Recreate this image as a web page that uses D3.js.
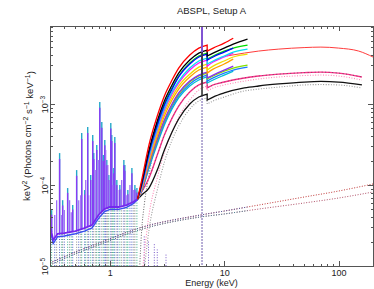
<!DOCTYPE html>
<html>
<head>
<meta charset="utf-8">
<script src="https://cdn.jsdelivr.net/npm/d3@7"></script>
<style>
  body { margin: 0; background: #fff; }
  text { font-family: "Liberation Sans", Arial, Helvetica, sans-serif; fill: #222; }
</style>
</head>
<body>
<svg id="chart" width="374" height="289"></svg>
<script>
// ---- labels / ticks
const titleText = "ABSPL, Setup A";
const xMajor = [1, 10, 100];
const xTickLabels = ["1", "10", "100"];
const yMajor = [1e-5, 1e-4, 1e-3];
const yTickExp = ["\u22125", "\u22124", "\u22123"];

// ---- energy grids (keV); 7.1 appears twice = Fe K edge (before / after)
const preE = [1.75, 1.9, 2.2, 2.6, 3, 3.5, 4, 5, 6, 7.1];
const postE = [7.1, 8, 10, 12, 16];
const postLongE = [7.1, 8, 10, 15, 20, 30, 50, 70, 100, 160];

// ---- short spectra (keV^2 photons cm^-2 s^-1 keV^-1), end at 12 or 16 keV
const redPre = [6.7e-5, 1.15e-4, 3.12e-4, 7.11e-4, 1.26e-3, 1.98e-3, 2.78e-3, 4.03e-3, 4.91e-3, 5.35e-3];
const redPost = [4.51e-3, 4.91e-3, 5.66e-3, 6.5e-3];
const blackPre = [6.7e-5, 1.06e-4, 2.70e-4, 6.17e-4, 1.09e-3, 1.72e-3, 2.41e-3, 3.49e-3, 4.26e-3, 4.64e-3];
const blackPost = [3.92e-3, 4.26e-3, 4.91e-3, 5.50e-3, 6.34e-3];
const greenPre = [6.7e-5, 1.03e-4, 2.55e-4, 5.66e-4, 1.0e-3, 1.58e-3, 2.22e-3, 3.21e-3, 3.92e-3, 4.26e-3];
const greenPost = [3.59e-3, 3.92e-3, 4.51e-3, 4.91e-3, 5.35e-3];
const bluePre = [6.7e-5, 1.0e-4, 2.48e-4, 5.51e-4, 9.72e-4, 1.53e-3, 2.16e-3, 3.12e-3, 3.81e-3, 4.14e-3];
const bluePost = [3.49e-3, 3.81e-3, 4.38e-3, 4.91e-3];
const cyanPre = [6.7e-5, 9.71e-5, 2.28e-4, 5.06e-4, 8.93e-4, 1.41e-3, 1.92e-3, 2.78e-3, 3.40e-3, 3.70e-3];
const cyanPost = [3.12e-3, 3.40e-3, 3.92e-3, 4.38e-3, 4.77e-3];
const magentaPre = [6.7e-5, 9.44e-5, 2.16e-4, 4.78e-4, 8.43e-4, 1.33e-3, 1.82e-3, 2.63e-3, 3.21e-3, 3.49e-3];
const magentaPost = [2.94e-3, 3.30e-3, 3.81e-3, 4.26e-3];
const yellowPre = [6.7e-5, 9.18e-5, 2.04e-4, 4.38e-4, 7.74e-4, 1.22e-3, 1.67e-3, 2.34e-3, 2.86e-3, 3.12e-3];
const yellowPost = [2.63e-3, 2.94e-3, 3.40e-3, 3.81e-3, 4.14e-3];
const orangePre = [6.7e-5, 8.92e-5, 1.92e-4, 4.03e-4, 7.11e-4, 1.12e-3, 1.53e-3, 2.16e-3, 2.63e-3, 2.86e-3];
const orangePost = [2.41e-3, 2.70e-3, 3.12e-3, 3.59e-3];
const purplePre = [6.7e-5, 8.67e-5, 1.82e-4, 3.70e-4, 6.34e-4, 1.0e-3, 1.37e-3, 1.92e-3, 2.28e-3, 2.48e-3];
const purplePost = [2.10e-3, 2.28e-3, 2.63e-3, 2.94e-3];
const limePre = [6.7e-5, 8.67e-5, 1.77e-4, 3.59e-4, 6.17e-4, 9.72e-4, 1.33e-3, 1.87e-3, 2.22e-3, 2.41e-3];
const limePost = [2.04e-3, 2.22e-3, 2.55e-3, 2.78e-3, 3.03e-3];
const azurePre = [6.7e-5, 8.43e-5, 1.67e-4, 3.40e-4, 5.83e-4, 9.18e-4, 1.26e-3, 1.77e-3, 2.10e-3, 2.28e-3];
const azurePost = [1.92e-3, 2.10e-3, 2.41e-3, 2.63e-3, 2.86e-3];
const tealPre = [6.7e-5, 8.43e-5, 1.62e-4, 3.21e-4, 5.51e-4, 8.67e-4, 1.19e-3, 1.67e-3, 1.98e-3, 2.16e-3];
const tealPost = [1.82e-3, 1.98e-3, 2.28e-3, 2.55e-3];

// ---- broad-band spectra (to 160 keV)
const pinkPre = [6.7e-5, 8.20e-5, 1.22e-4, 2.35e-4, 4.14e-4, 6.71e-4, 9.44e-4, 1.41e-3, 1.72e-3, 1.87e-3];
const pinkPost = [1.58e-3, 1.72e-3, 1.87e-3, 2.10e-3, 2.22e-3, 2.34e-3, 2.44e-3, 2.48e-3, 2.41e-3, 2.16e-3];
const lowPre = [6.7e-5, 7.53e-5, 9.18e-5, 1.53e-4, 2.70e-4, 4.51e-4, 6.53e-4, 1.0e-3, 1.22e-3, 1.33e-3];
const lowPost = [1.12e-3, 1.22e-3, 1.37e-3, 1.58e-3, 1.67e-3, 1.77e-3, 1.87e-3, 1.90e-3, 1.87e-3, 1.72e-3];

// ---- hard X-ray spectrum (thin red)
const hardE = [10.5, 15, 20, 30, 50, 70, 100, 150, 200];
const hardF = [3.92e-3, 4.26e-3, 4.51e-3, 4.77e-3, 4.98e-3, 5.05e-3, 4.91e-3, 4.51e-3, 3.81e-3];

// ---- model components (dotted)
const pinkDotE = [1.95, 2.2, 2.6, 3, 3.5, 4, 5, 6, 7.1];
const pinkDotPre = [1.0e-5, 4.26e-5, 1.22e-4, 2.55e-4, 4.51e-4, 6.91e-4, 1.12e-3, 1.49e-3, 1.67e-3];
const pinkDotPost = [1.45e-3, 1.58e-3, 1.72e-3, 1.92e-3, 2.04e-3, 2.16e-3, 2.25e-3, 2.28e-3, 2.22e-3, 1.98e-3];
const lowDotE = [2.0, 2.2, 2.6, 3, 3.5, 4, 5, 6, 7.1];
const lowDotPre = [9e-6, 2.78e-5, 8.67e-5, 1.92e-4, 3.59e-4, 5.35e-4, 8.67e-4, 1.09e-3, 1.19e-3];
const lowDotPost = [1.0e-3, 1.09e-3, 1.22e-3, 1.45e-3, 1.53e-3, 1.62e-3, 1.72e-3, 1.74e-3, 1.72e-3, 1.58e-3];
const softDotE = [1.82, 1.9, 2.0, 2.2, 2.6, 3];
const softDotF = [9e-6, 2.78e-5, 5.66e-5, 1.33e-4, 4.14e-4, 8.43e-4];

// scattered power laws
const scatE = [0.3, 0.5, 0.8, 1.8, 6.2, 10, 20, 50, 100, 200];
const scatHiF = [1.09e-5, 1.49e-5, 1.92e-5, 2.94e-5, 4.26e-5, 4.77e-5, 5.66e-5, 7.11e-5, 8.43e-5, 1.03e-4];
const scatLoF = [1.03e-5, 1.41e-5, 1.82e-5, 2.78e-5, 4.03e-5, 4.39e-5, 5.05e-5, 6.0e-5, 6.91e-5, 8.2e-5];

// ---- soft emission-line forest
const contE = [0.3, 0.32, 0.35, 0.4, 0.5, 0.6, 0.7, 0.8, 0.9, 1.0, 1.2, 1.4, 1.6, 1.75];
const contF = [3.2e-5, 2.1e-5, 2.5e-5, 2.55e-5, 2.7e-5, 2.94e-5, 3.2e-5, 4.3e-5, 5.05e-5, 5.35e-5, 5.35e-5, 5.66e-5, 6.17e-5, 6.7e-5];
const contLoF = [2.9e-5, 1.9e-5, 2.3e-5, 2.35e-5, 2.5e-5, 2.7e-5, 2.95e-5, 3.9e-5, 4.7e-5, 5.0e-5, 5.0e-5, 5.3e-5, 5.9e-5, 6.6e-5];
const lineE = [0.31, 0.364, 0.387, 0.428, 0.474, 0.513, 0.568, 0.603, 0.641, 0.681, 0.709, 0.724, 0.769, 0.817, 0.851, 0.877,
               0.904, 0.941, 0.98, 1.02, 1.04, 1.084, 1.106, 1.152, 1.224, 1.327, 1.354, 1.438, 1.56, 1.657, 1.725];
const lineTop = [4.9e-5, 2.48e-4, 6.5e-5, 9.18e-5, 5.66e-5, 1.53e-4, 4.38e-4, 8.67e-5, 5.21e-4, 1.33e-4, 4.14e-4, 2.48e-4, 3.12e-4, 1.06e-3, 6.0e-4, 2.35e-4,
                 3.59e-4, 2.04e-4, 1.33e-4, 5.83e-4, 4.14e-4, 1.62e-4, 3.92e-4, 1.15e-4, 1.0e-4, 2.04e-4, 1.77e-4, 8.67e-5, 1.62e-4, 1.0e-4, 9.18e-5];
const lineMid = [4.3e-5, 2.1e-4, 5.6e-5, 8.0e-5, 5.0e-5, 1.3e-4, 3.7e-4, 7.6e-5, 4.4e-4, 1.15e-4, 3.5e-4, 2.1e-4, 2.7e-4, 9.0e-4, 5.1e-4, 2.0e-4,
                 3.1e-4, 1.75e-4, 1.15e-4, 5.0e-4, 3.5e-4, 1.4e-4, 3.3e-4, 1.0e-4, 8.8e-5, 1.75e-4, 1.5e-4, 7.7e-5, 1.4e-4, 8.8e-5, 8.1e-5];
// weaker lines
const weakE = [0.33, 0.343, 0.38, 0.40, 0.445, 0.46, 0.535, 0.557, 0.616, 0.654, 0.754, 0.80, 0.92, 0.96, 1.06, 1.175, 1.27, 1.41, 1.5, 1.62];
const weakF = [4.26e-5, 6.5e-5, 4.26e-5, 4.9e-5, 6.5e-5, 4.6e-5, 6.5e-5, 7.5e-5, 1.15e-4, 7.5e-5, 1.53e-4, 2.04e-4, 2.7e-4, 1.77e-4, 1.0e-4, 8.7e-5, 1.15e-4, 7.5e-5, 1.0e-4, 8.7e-5];
const hiLineE = [2.0, 2.18, 2.45, 2.6, 3.1];
const hiLineF = [2.4e-5, 2.0e-5, 1.9e-5, 1.6e-5, 1.4e-5];

// ---- Fe K alpha line
const feE = 6.4;
const fePeak = 2.0e-2;     // goes off the top of the frame
const fePeakLow = 4.4e-3;
const feGaussTop = 1.3e-3;

// ---------------------------------------------------------------
const svg = d3.select("#chart");
const m = { l: 50, r: 373, t: 26, b: 266 };

const x = d3.scaleLog().domain([0.3, 200]).range([m.l, m.r]);
const y = d3.scaleLog().domain([1e-5, 9.2e-3]).range([m.b, m.t]);

const defs = svg.append("defs");
defs.append("clipPath").attr("id", "plotClip").append("rect")
  .attr("x", m.l).attr("y", m.t).attr("width", m.r - m.l).attr("height", m.b - m.t);
defs.append("clipPath").attr("id", "softClip").append("rect")
  .attr("x", m.l).attr("y", m.t).attr("width", x(16) - m.l).attr("height", m.b - m.t);

const plot = svg.append("g").attr("clip-path", "url(#plotClip)");

const line = d3.line().x(d => x(d[0])).y(d => y(d[1])).curve(d3.curveMonotoneX);
const lineLin = d3.line().x(d => x(d[0])).y(d => y(d[1]));
const pts = (es, fs) => fs.map((f, i) => [es[i], f]);
// two smooth pieces joined by the vertical drop of the Fe K edge
const edgePath = (preEs, pre, postEs, post) =>
  line(pts(preEs, pre)) + line(pts(postEs, post)).replace(/^M/, "L");

const dotted = (sel, color, w) => sel.attr("fill", "none").attr("stroke", color)
  .attr("stroke-width", w || 1).attr("stroke-dasharray", "1,1.6");

const vlines = (cls, data, y1, y2, color, w) => plot.selectAll("." + cls).data(data).join("line")
  .attr("class", cls)
  .attr("x1", d => x(d)).attr("x2", d => x(d))
  .attr("y1", y1).attr("y2", y2)
  .attr("stroke", color).attr("stroke-width", w || 1);

// scattered power laws: red over the full band, blue-grey up to 16 keV
dotted(plot.append("path").attr("d", line(pts(scatE, scatHiF))), "#c03838");
dotted(plot.append("path").attr("d", line(pts(scatE, scatLoF))), "#b05068");
const softG = plot.append("g").attr("clip-path", "url(#softClip)");
dotted(softG.append("path").attr("d", line(pts(scatE, scatHiF))), "#5560a8");
dotted(softG.append("path").attr("d", line(pts(scatE, scatLoF))), "#4f8a9c");

// dotted line components reaching down to the bottom
const cont = d3.scaleLog().domain(contE).range(contF);
const dotColors = ["#3bb08a", "#4b5cc4", "#8a8a8a"];
dotted(vlines("dspike", lineE, m.b, d => y(cont(d)), "#000"), "#000")
  .attr("stroke", (d, i) => dotColors[i % 3]);
dotted(vlines("wdspike", weakE, m.b, d => y(cont(d)), "#000"), "#000")
  .attr("stroke", (d, i) => dotColors[(i + 1) % 3]);
dotted(vlines("hspike", hiLineE, m.b, (d, i) => y(hiLineF[i]), "#7a5cc8"), "#7a5cc8");

// absorbed power-law components
dotted(plot.append("path").attr("d", line(pts(softDotE, softDotF))), "#666");
dotted(plot.append("path").attr("d", edgePath(lowDotE, lowDotPre, postLongE, lowDotPost)), "#999", 1.1);
dotted(plot.append("path").attr("d", edgePath(pinkDotE, pinkDotPre, postLongE, pinkDotPost)), "#ff8ab8", 1.1);

// Fe line gaussian component
plot.append("line")
  .attr("x1", x(feE)).attr("x2", x(feE)).attr("y1", m.b + 2).attr("y2", y(feGaussTop))
  .attr("stroke", "#7d6db5").attr("stroke-width", 1.1).attr("stroke-dasharray", "2,1");

// soft line forest: teal tops, violet body, violet continuum
vlines("tspike", lineE, d => y(cont(d)), (d, i) => y(lineTop[i]), "#25a9c9", 1.4);
vlines("vspike", lineE, d => y(cont(d)), (d, i) => y(lineMid[i]), "#8a3cf5", 1.4);
vlines("wspike", weakE, d => y(cont(d)), (d, i) => y(weakF[i]), "#9d6cf6", 1.3);
plot.append("path").attr("d", lineLin(pts(contE, contLoF)))
  .attr("fill", "none").attr("stroke", "#3a4cf0").attr("stroke-width", 1.4);
plot.append("path").attr("d", lineLin(pts(contE, contF)))
  .attr("fill", "none").attr("stroke", "#7526ee").attr("stroke-width", 1.8);

// hard band
plot.append("path").attr("d", line(pts(hardE, hardF)))
  .attr("fill", "none").attr("stroke", "#ff3c3c").attr("stroke-width", 1);

// broad-band spectra
plot.append("path").attr("d", edgePath(preE, lowPre, postLongE, lowPost))
  .attr("fill", "none").attr("stroke", "#111").attr("stroke-width", 1.3);
plot.append("path").attr("d", edgePath(preE, pinkPre, postLongE, pinkPost))
  .attr("fill", "none").attr("stroke", "#ff2d8a").attr("stroke-width", 1.4);
plot.append("path").attr("d", edgePath(preE, pinkPre, postLongE, pinkPost))
  .attr("fill", "none").attr("stroke", "#555").attr("stroke-width", 0.8).attr("stroke-dasharray", "1,2.5");

// short spectra, back to front
const shortSeries = [
  { pre: tealPre, post: tealPost, color: "#00bcd4" },
  { pre: azurePre, post: azurePost, color: "#1a7cff" },
  { pre: limePre, post: limePost, color: "#84e000" },
  { pre: purplePre, post: purplePost, color: "#8a2cf0" },
  { pre: orangePre, post: orangePost, color: "#ffa000" },
  { pre: yellowPre, post: yellowPost, color: "#eedd00" },
  { pre: magentaPre, post: magentaPost, color: "#ff10ff" },
  { pre: cyanPre, post: cyanPost, color: "#00e0f0" },
  { pre: greenPre, post: greenPost, color: "#00dd00" },
  { pre: bluePre, post: bluePost, color: "#0000ff" },
  { pre: blackPre, post: blackPost, color: "#000" },
  { pre: redPre, post: redPost, color: "#ff0000" }
];
shortSeries.forEach(s => {
  plot.append("path")
    .attr("d", edgePath(preE, s.pre, postE.slice(0, s.post.length), s.post))
    .attr("fill", "none").attr("stroke", s.color).attr("stroke-width", 1.3);
});

// Fe K alpha spikes at 6.4 keV
const feBase = pre => d3.scaleLog().domain(preE).range(pre)(feE);
const spikeOrder = [shortSeries[11], shortSeries[10], { pre: pinkPre, color: "#ff2d8a" }, shortSeries[4],
  shortSeries[6], shortSeries[0], shortSeries[3]];
spikeOrder.forEach(s => {
  plot.append("line")
    .attr("x1", x(feE)).attr("x2", x(feE))
    .attr("y1", y(feBase(s.pre))).attr("y2", y(fePeak))
    .attr("stroke", s.color).attr("stroke-width", 1);
});
plot.append("line")
  .attr("x1", x(feE)).attr("x2", x(feE))
  .attr("y1", y(feBase(lowPre))).attr("y2", y(fePeakLow))
  .attr("stroke", "#333").attr("stroke-width", 1.6);

// ---- axes: ticks inside on all four sides
const isMajor = v => Math.abs(Math.log10(v) - Math.round(Math.log10(v))) < 1e-9;
const xMinor = x.ticks().filter(v => !isMajor(v));
const yMinor = y.ticks().filter(v => !isMajor(v));

const styleAxis = g => {
  g.select(".domain").remove();
  g.selectAll(".tick line").attr("stroke", "#555").attr("shape-rendering", "crispEdges");
  g.attr("font-family", null).attr("font-size", 9);
};

[[d3.axisBottom(x), `translate(0,${m.b})`, xMinor], [d3.axisTop(x), `translate(0,${m.t})`, xMinor],
 [d3.axisLeft(y), `translate(${m.l},0)`, yMinor], [d3.axisRight(y), `translate(${m.r},0)`, yMinor]]
  .forEach(([ax, tr, minor]) => {
    svg.append("g").attr("transform", tr)
      .call(ax.tickValues(minor).tickSize(-2.5).tickFormat(""))
      .call(styleAxis);
  });

svg.append("g").attr("transform", `translate(0,${m.b})`)
  .call(d3.axisBottom(x).tickValues(xMajor).tickSize(-5).tickPadding(4).tickFormat((d, i) => xTickLabels[i]))
  .call(styleAxis);
svg.append("g").attr("transform", `translate(0,${m.t})`)
  .call(d3.axisTop(x).tickValues(xMajor).tickSize(-5).tickFormat(""))
  .call(styleAxis);
svg.append("g").attr("transform", `translate(${m.r},0)`)
  .call(d3.axisRight(y).tickValues(yMajor).tickSize(-5).tickFormat(""))
  .call(styleAxis);
const gy = svg.append("g").attr("transform", `translate(${m.l},0)`)
  .call(d3.axisLeft(y).tickValues(yMajor).tickSize(-5).tickFormat(""))
  .call(styleAxis);

// rotated y tick labels, 10 with a superscript exponent
gy.selectAll(".tick").append("text")
  .attr("transform", "translate(-2,0) rotate(-90)")
  .attr("text-anchor", "middle")
  .each(function (d, i) {
    const t = d3.select(this);
    t.append("tspan").text("10");
    t.append("tspan").attr("dy", "-0.45em").attr("font-size", "6.5px").text(yTickExp[i]);
  });

// frame
svg.append("rect")
  .attr("x", m.l).attr("y", m.t).attr("width", m.r - m.l).attr("height", m.b - m.t)
  .attr("fill", "none").attr("stroke", "#555").attr("stroke-width", 1)
  .attr("shape-rendering", "crispEdges");

// ---- titles
svg.append("text").attr("x", (m.l + m.r) / 2).attr("y", 13.5)
  .attr("text-anchor", "middle").attr("font-size", 9.5).text(titleText);
svg.append("text").attr("x", (m.l + m.r) / 2).attr("y", 286)
  .attr("text-anchor", "middle").attr("font-size", 9).text("Energy (keV)");

const ylab = svg.append("text")
  .attr("transform", "translate(30,136) rotate(-90)")
  .attr("text-anchor", "middle").attr("font-size", 9.5);
const yParts = [["keV", 0], ["2", 1], [" (Photons cm", 0], ["\u22122", 1], [" s", 0], ["\u22121", 1],
                [" keV", 0], ["\u22121", 1], [")", 0]];
let up = false;
yParts.forEach(([txt, sup]) => {
  const ts = ylab.append("tspan").text(txt);
  if (sup && !up) ts.attr("dy", "-0.4em").attr("font-size", "7px");
  else if (sup) ts.attr("font-size", "7px");
  if (!sup && up) ts.attr("dy", "0.4em");
  up = !!sup;
});
</script>
</body>
</html>
